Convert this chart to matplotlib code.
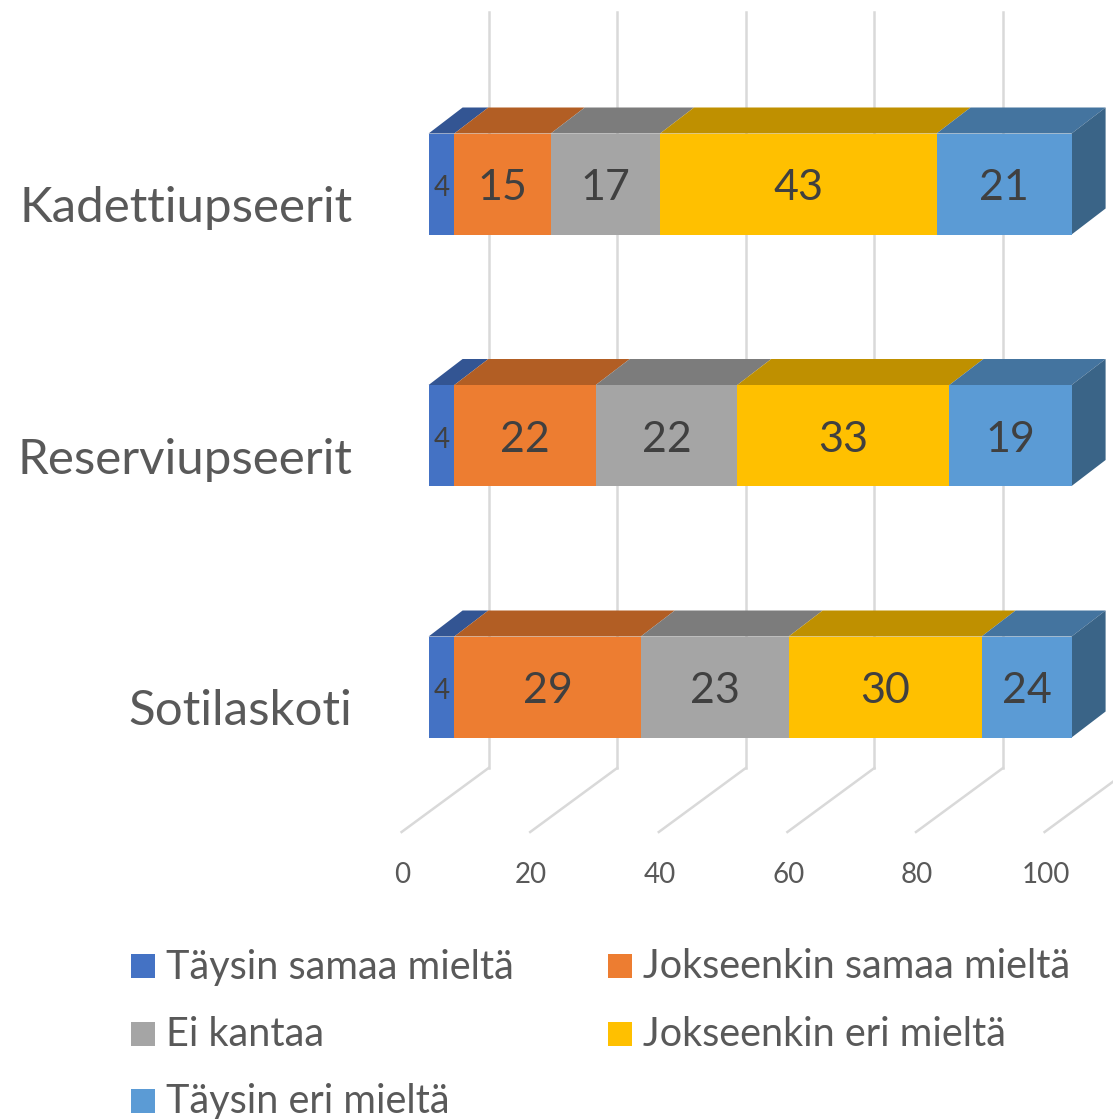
import numpy as np
from matplotlib import pyplot as plt
from matplotlib.patches import Polygon, Rectangle

categories = ['Kadettiupseerit', 'Reserviupseerit', 'Sotilaskoti']
series_names = ['Täysin samaa mieltä', 'Jokseenkin samaa mieltä', 'Ei kantaa',
                'Jokseenkin eri mieltä', 'Täysin eri mieltä']
taysin_samaa = [4, 4, 4]
jokseenkin_samaa = [15, 22, 29]
ei_kantaa = [17, 22, 23]
jokseenkin_eri = [43, 33, 30]
taysin_eri = [21, 19, 24]
x_ticks = [0, 20, 40, 60, 80, 100]

front_colors = ['#4472C4', '#ED7D31', '#A5A5A5', '#FFC000', '#5B9BD5']
top_colors = ['#335593', '#B25E24', '#7C7C7C', '#BF9000', '#44749F']
side_color = '#3A6487'
grid_color = '#D9D9D9'

W, H = 1113, 1119
X0, X_SCALE = 428.6, 6.43
Y0, Y_SCALE = 687, 251.5
DEPTH_X, DEPTH_Y = 34 / X_SCALE, 26 / Y_SCALE
BAR_H = 101 / Y_SCALE

plt.rcParams['font.family'] = ['Lato', 'DejaVu Sans']

fig = plt.figure(figsize=(W / 100, H / 100), dpi=100)
ax = fig.add_axes([0, 0, 1, 1])
ax.set_xlim(-X0 / X_SCALE, (W - X0) / X_SCALE)
ax.set_ylim((Y0 - H) / Y_SCALE, Y0 / Y_SCALE)
ax.axis('off')

# back wall and floor lines
for t in x_ticks:
    ax.plot([t + 60 / X_SCALE, t + 60 / X_SCALE], [-81 / Y_SCALE, 675 / Y_SCALE],
            color=grid_color, lw=1.8, zorder=1)
    ax.plot([t - 27 / X_SCALE, t + 60 / X_SCALE], [-145 / Y_SCALE, -81 / Y_SCALE],
            color=grid_color, lw=1.8, zorder=1)
    ax.text(t - 26 / X_SCALE, -188 / Y_SCALE, str(t), ha='center', va='center',
            fontsize=20, color='#595959')

positions = np.arange(len(categories))[::-1]
all_series = [taysin_samaa, jokseenkin_samaa, ei_kantaa, jokseenkin_eri, taysin_eri]
axis_max = x_ticks[-1]

for i, y in enumerate(positions):
    left = 0
    for s, values in enumerate(all_series):
        # the axis stops at 100, longer stacks are cut there
        right = min(left + values[i], axis_max)
        width = right - left
        ax.barh(y, width, left=left, height=BAR_H, color=front_colors[s], zorder=3)
        y_top = y + BAR_H / 2
        ax.add_patch(Polygon([(left, y_top), (right, y_top),
                              (right + DEPTH_X, y_top + DEPTH_Y), (left + DEPTH_X, y_top + DEPTH_Y)],
                             closed=True, facecolor=top_colors[s], edgecolor='none', zorder=2))
        size = 20 if values[i] < 5 else 31
        ax.text(left + width / 2, y - 4 / Y_SCALE, str(values[i]), ha='center', va='center',
                fontsize=size, color='#404040', zorder=4)
        left = right
    y_bottom = y - BAR_H / 2
    y_top = y + BAR_H / 2
    ax.add_patch(Polygon([(left, y_bottom), (left, y_top),
                          (left + DEPTH_X, y_top + DEPTH_Y), (left + DEPTH_X, y_bottom + DEPTH_Y)],
                         closed=True, facecolor=side_color, edgecolor='none', zorder=2))
    ax.text(-76 / X_SCALE, y - 24 / Y_SCALE, categories[i], ha='right', va='center',
            fontsize=35.5, color='#595959')

# legend placed by hand, three rows of two
legend_x = [131, 608]
legend_y = [966, 1034, 1101]
for s, name in enumerate(series_names):
    lx = legend_x[s % 2]
    ly = legend_y[s // 2]
    fig.add_artist(Rectangle((lx / W, 1 - (ly + 12) / H), 24 / W, 24 / H,
                             transform=fig.transFigure, facecolor=front_colors[s], edgecolor='none'))
    fig.text((lx + 35) / W, 1 - (ly + 1) / H, name, ha='left', va='center', fontsize=28.5, color='#595959')

fig.savefig('out.png', dpi=100)
